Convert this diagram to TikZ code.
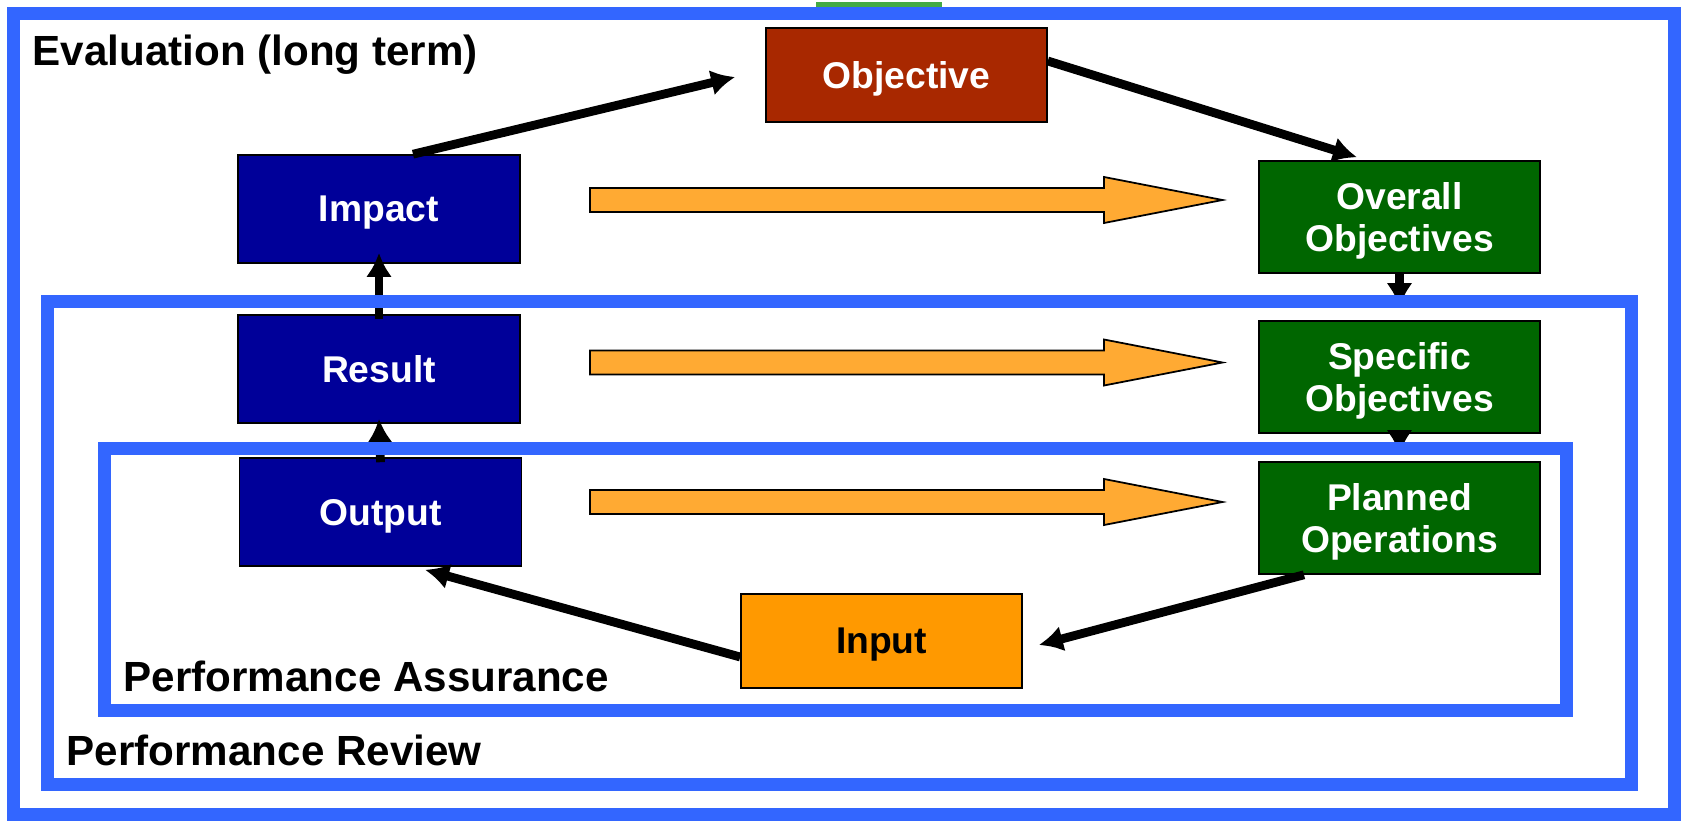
\documentclass[tikz,border=0pt]{standalone}
\usepackage{fontspec}
\setmainfont{Liberation Sans}
\usetikzlibrary{arrows.meta,positioning}
\definecolor{frameblue}{RGB}{51,102,255}
\definecolor{navy}{RGB}{0,0,153}
\definecolor{rust}{RGB}{168,40,0}
\definecolor{darkgreen}{RGB}{0,102,0}
\definecolor{inputorange}{RGB}{255,153,0}
\definecolor{flowyellow}{RGB}{255,170,51}
\definecolor{topgreen}{RGB}{68,170,68}
\tikzset{
    >={Latex[length=0.24cm,width=0.26cm]},
    box/.style={draw=black,line width=0.45pt,minimum width=2.81cm,inner sep=0pt,
        align=center,text=white,text depth=0pt,font=\fontsize{10.6}{11.9}\selectfont\bfseries},
    navybox/.style={box,fill=navy,minimum width=2.82cm,minimum height=1.08cm},
    greenbox/.style={box,fill=darkgreen,minimum height=1.12cm},
    conn/.style={->,line width=0.088cm},
    frame/.style={draw=frameblue,line width=0.13cm},
    flow/.style={draw=black,fill=flowyellow,line width=0.5pt,line join=miter},
    title/.style={anchor=base west,inner sep=0pt,font=\fontsize{12}{14}\selectfont\bfseries}
}
% block arrow, argument = height of its middle line
\newcommand{\flowarrow}[1]{%
    \path[flow] (5.90,#1+0.12) -- (11.04,#1+0.12) -- (11.04,#1+0.23) -- (12.225,#1)
        -- (11.04,#1-0.23) -- (11.04,#1-0.12) -- (5.90,#1-0.12) -- cycle;}

\begin{document}
\begin{tikzpicture}
    \useasboundingbox (0,0) rectangle (16.81,8.22);
    \fill[topgreen] (8.16,8.12) rectangle (9.42,8.20);

    % boxes
    \node[navybox] (impact) at (3.79,6.13) {Impact};
    \node[navybox] (result) at (3.79,4.53) {Result};
    \node[navybox] (output) at (3.805,3.10) {Output};
    \node[box,fill=rust,minimum height=0.94cm] (objective) at (9.065,7.47) {Objective};
    \node[greenbox] (overall) at (13.995,6.05) {Overall\\Objectives};
    \node[greenbox] (specific) at (13.995,4.45) {Specific\\Objectives};
    \node[greenbox] (planned) at (13.995,3.04) {Planned\\Operations};
    \node[box,fill=inputorange,text=black,minimum height=0.94cm] (input) at (8.815,1.81) {Input};

    % orange arrows
    \flowarrow{6.22}
    \flowarrow{4.595}
    \flowarrow{3.20}

    % black arrows
    \draw[conn] ([xshift=0.34cm]impact.north) -- ([xshift=-0.30cm,yshift=-0.02cm]objective.west);
    \draw[conn] ([yshift=0.14cm]objective.east) -- ([xshift=-0.425cm,yshift=0.03cm]overall.north);
    \draw[conn] (overall.south) -- ([yshift=0.13cm]specific.north);
    \draw[conn] (specific.south) -- ([yshift=0.07cm]planned.north);
    \draw[conn] ([xshift=-0.955cm]planned.south) -- ([xshift=0.16cm,yshift=-0.04cm]input.east);
    \draw[conn] ([yshift=-0.16cm]input.west) -- ([xshift=0.445cm,yshift=-0.03cm]output.south);
    \draw[conn] ([yshift=-0.05cm]output.north) -- ([yshift=0.05cm]result.south);
    \draw[conn] ([yshift=-0.05cm]result.north) -- ([yshift=0.11cm]impact.south);

    % frames
    \draw[frame] (0.13,0.08) rectangle (16.74,8.085);
    \draw[frame] (0.47,0.38) rectangle (16.31,5.21);
    \draw[frame] (1.04,1.12) rectangle (15.665,3.74);

    \node[title] (evaluation) at (0.32,7.56) {Evaluation (long term)};
    \node[title] (review) at (0.66,0.57) {Performance Review};
    \node[title] (assurance) at (1.23,1.31) {Performance Assurance};
\end{tikzpicture}
\end{document}
